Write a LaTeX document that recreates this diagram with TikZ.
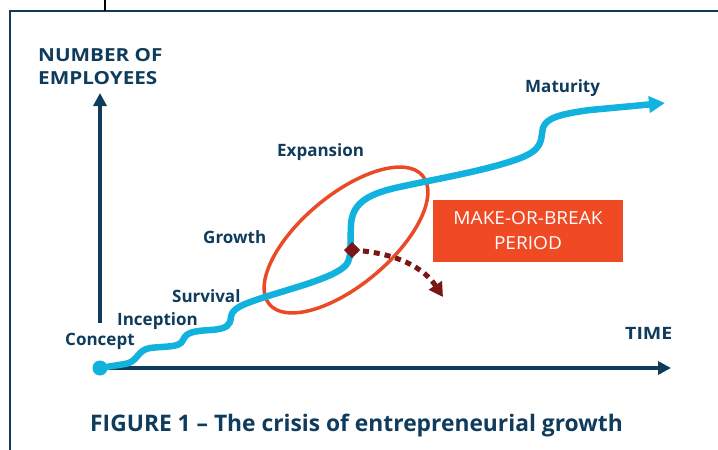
\documentclass[tikz,border=0pt]{standalone}
\usepackage{fontspec}
\setmainfont{Open Sans}
\usetikzlibrary{arrows.meta}

\definecolor{navy}{HTML}{0F3B5C}
\definecolor{stagecyan}{HTML}{12B2DF}
\definecolor{ringred}{HTML}{EA4B26}
\definecolor{boxred}{HTML}{EF4A24}
\definecolor{darkred}{HTML}{7A1518}

% wide caps for the axis titles
\newcommand{\widecaps}[1]{\scalebox{1.15}[1]{#1}}

\tikzset{
  frameline/.style={draw=navy, line width=2pt},
  axisline/.style={draw=navy, line width=4pt, -{Triangle[length=13pt,width=13pt]}},
  stagecurve/.style={draw=stagecyan, line width=6.5pt, line cap=round,
    -{Triangle[length=16pt,width=16pt]}},
  stagelabel/.style={anchor=base west, inner sep=0pt, text=navy,
    font=\fontsize{17}{17}\selectfont\bfseries},
  axislabel/.style={anchor=base west, inner sep=0pt, text=navy,
    font=\fontsize{18}{23}\selectfont\bfseries, align=left},
  ring/.style={draw=ringred, line width=3.5pt},
  warnbox/.style={fill=boxred, text=white, minimum width=190pt, minimum height=62pt,
    inner sep=0pt, align=center, font=\fontsize{18}{25}\selectfont},
  dropline/.style={draw=darkred, line width=5pt, dash pattern=on 6pt off 5pt,
    -{Triangle[length=14pt,width=15pt]}}
}

\begin{document}
\begin{tikzpicture}[x=1pt, y=-1pt]
  \useasboundingbox (0,0) rectangle (718,450);

  % page frame and tick
  \draw[frameline] (10,450) -- (10,11) -- (718,11);
  \draw[black, line width=1.5pt] (105,0) -- (105,11);

  % axes
  \coordinate (origin) at (100,368);
  \coordinate (ytop) at (100,93);
  \coordinate (xend) at (671,368);
  \coordinate (ybase) at (100,323);
  \draw[axisline] (ybase) -- (ytop);
  \draw[axisline] (origin) -- (xend);

  \node[axislabel] (ylab) at (38,84) {\widecaps{NUMBER OF}\\\widecaps{EMPLOYEES}};
  \node[axislabel, font=\fontsize{17}{17}\selectfont\bfseries] (xlab) at (625,339) {\widecaps{TIME}};

  % highlighted ring around the make-or-break zone
  \draw[ring, rotate around={40:(346,240)}] (346,240) ellipse [x radius=100, y radius=45];

  % growth curve through the stages
  \fill[stagecyan] (origin) circle (7.5);
  \draw[stagecurve] (origin) -- (125,364)
    .. controls (138,362) and (137,350) .. (150,348)
    .. controls (165,346) and (180,348) .. (183,340)
    .. controls (186,332) and (195,331) .. (210,330)
    .. controls (228,329) and (230,325) .. (231,317)
    .. controls (232,309) and (240,305) .. (265,297)
    .. controls (300,286) and (335,277) .. (346,265)
    .. controls (352,258) and (350,245) .. (351,225)
    .. controls (352,205) and (365,195) .. (395,188)
    .. controls (430,180) and (480,172) .. (515,160)
    .. controls (545,150) and (540,140) .. (543,128)
    .. controls (546,118) and (560,114) .. (590,110)
    -- (665,103);

  % failure branch
  \coordinate (fail) at (352,250);
  \coordinate (failend) at (443,297);
  \draw[dropline] (fail) .. controls (385,252) and (420,262) .. (failend);
  \fill[darkred] (fail) ++(0,-8) -- ++(8,8) -- ++(-8,8) -- ++(-8,-8) -- cycle;

  % stage names
  \node[stagelabel] (concept) at (65,345) {Concept};
  \node[stagelabel] (inception) at (117,325) {Inception};
  \node[stagelabel] (survival) at (172,302) {Survival};
  \node[stagelabel] (growth) at (203,243) {Growth};
  \node[stagelabel] (expansion) at (277,156) {Expansion};
  \node[stagelabel] (maturity) at (525,92) {Maturity};

  % callout
  \node[warnbox] (mob) at (528,231) {\scalebox{1.06}[1]{MAKE-OR-BREAK}\\\scalebox{1.06}[1]{PERIOD}};

  % caption
  \node[anchor=base west, inner sep=0pt, text=navy,
    font=\fontsize{22.8}{22.8}\selectfont\bfseries] (caption) at (90,431)
    {FIGURE 1 -- The crisis of entrepreneurial growth};
\end{tikzpicture}
\end{document}
